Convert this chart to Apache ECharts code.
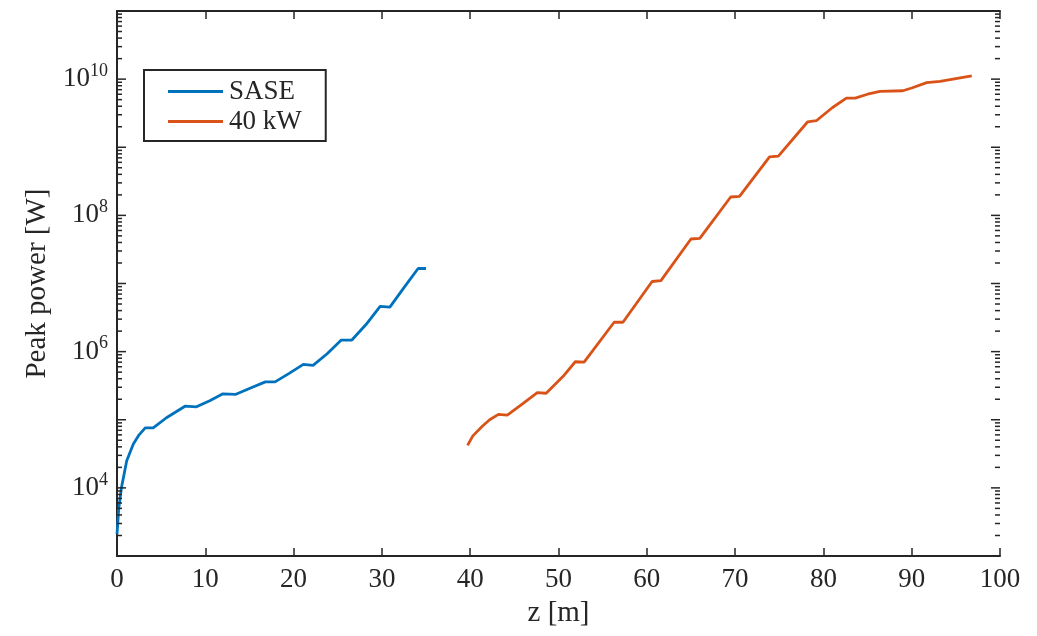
<!DOCTYPE html>
<html>
<head>
<meta charset="utf-8">
<script src="https://cdn.jsdelivr.net/npm/echarts@6/dist/echarts.min.js"></script>
<style>
  html, body { margin: 0; padding: 0; background: #fff; }
  #chart { width: 1037px; height: 636px; }
</style>
</head>
<body>
<div id="chart"></div>
<script>
// Peak power along the undulator: SASE start-up vs. a 40 kW seeded section
const saseZ = [0, 0.2, 0.5, 1.1, 1.85, 2.5, 3.2, 4.1, 5.6, 7.7, 9.0, 10.5, 12.0, 13.4, 15.2, 16.8, 17.9, 19.5, 21.1, 22.2, 23.8, 25.4, 26.6, 28.2, 29.8, 30.9, 32.5, 34.1, 35.0];
const saseP = [2.1e3, 5.0e3, 1.0e4, 2.5e4, 4.4e4, 6.0e4, 7.6e4, 7.6e4, 1.07e5, 1.58e5, 1.55e5, 1.9e5, 2.4e5, 2.35e5, 2.95e5, 3.6e5, 3.6e5, 4.8e5, 6.5e5, 6.3e5, 9.3e5, 1.48e6, 1.48e6, 2.5e6, 4.6e6, 4.5e6, 8.7e6, 1.66e7, 1.66e7];

const seedZ = [39.7, 40.3, 41.4, 42.2, 43.2, 44.2, 46.0, 47.6, 48.6, 50.5, 51.9, 52.9, 56.3, 57.3, 60.6, 61.6, 65.0, 66.0, 69.5, 70.5, 73.9, 74.9, 78.2, 79.2, 81.0, 82.6, 83.6, 85.0, 86.4, 89.0, 90.0, 91.7, 93.2, 95.0, 96.8];
const seedP = [4.2e4, 5.8e4, 8.1e4, 1.0e5, 1.2e5, 1.17e5, 1.74e5, 2.5e5, 2.45e5, 4.3e5, 7.1e5, 7.0e5, 2.7e6, 2.7e6, 1.07e7, 1.1e7, 4.5e7, 4.6e7, 1.86e8, 1.9e8, 7.2e8, 7.4e8, 2.35e9, 2.45e9, 3.8e9, 5.25e9, 5.25e9, 6.0e9, 6.6e9, 6.75e9, 7.4e9, 8.9e9, 9.3e9, 1.02e10, 1.12e10];

const seriesNames = ['SASE', '40 kW'];
const seriesColors = ['#0072BD', '#D95319'];
const xTicks = [0, 10, 20, 30, 40, 50, 60, 70, 80, 90, 100];
const yLabelExps = [4, 6, 8, 10];
const yMin = 1e3, yMax = 1e11;

// log-axis tick marks: one per decade plus 2..9 within each decade
const yTickVals = [];
for (let e = 3; e <= 10; e++) {
  for (let k = 1; k <= 9; k++) yTickVals.push(k * Math.pow(10, e));
}
yTickVals.push(yMax);

const zip = (xs, ys) => xs.map((x, i) => [x, ys[i]]);

const ink = '#262626';
const serif = '"Liberation Serif", "DejaVu Serif", serif';

const chart = echarts.init(document.getElementById('chart'), null, { renderer: 'canvas' });

const baseX = {
  type: 'value', min: 0, max: 100, interval: 10,
  axisLine: { show: true, lineStyle: { color: ink, width: 2 } },
  axisTick: { show: true, inside: true, length: 8, lineStyle: { color: ink, width: 1.5 } },
  splitLine: { show: false }
};
const baseY = {
  type: 'log', logBase: 10, min: yMin, max: yMax,
  axisLine: { show: true, lineStyle: { color: ink, width: 2 } },
  axisTick: { show: false },
  minorTick: { show: false },
  splitLine: { show: false }
};

chart.setOption({
  animation: false,
  backgroundColor: '#fff',
  textStyle: { fontFamily: serif, color: ink },
  grid: { left: 117, right: 37, top: 11, bottom: 80, containLabel: false },
  legend: {
    orient: 'vertical', left: 144, top: 70,
    data: seriesNames.map(n => ({ name: n, icon: 'rect' })),
    itemWidth: 55, itemHeight: 3, itemGap: 3,
    padding: [8, 24, 6, 24],
    borderColor: ink, borderWidth: 2, backgroundColor: '#fff',
    textStyle: { fontFamily: serif, fontSize: 27, color: ink, padding: [0, 0, 0, 1] }
  },
  xAxis: [
    Object.assign({}, baseX, {
      position: 'bottom',
      name: 'z [m]', nameLocation: 'middle', nameGap: 43,
      nameTextStyle: { fontFamily: serif, fontSize: 29, color: ink },
      axisLabel: {
        margin: 10, fontFamily: serif, fontSize: 27, color: ink,
        formatter: v => xTicks.includes(v) ? String(v) : ''
      }
    }),
    Object.assign({}, baseX, { position: 'top', axisLabel: { show: false } })
  ],
  yAxis: [
    Object.assign({}, baseY, {
      position: 'left',
      name: 'Peak power [W]', nameLocation: 'middle', nameGap: 60, nameRotate: 90,
      nameTextStyle: { fontFamily: serif, fontSize: 29, color: ink },
      axisLabel: {
        margin: 9, color: ink,
        formatter: v => {
          const e = Math.round(Math.log10(v));
          return yLabelExps.includes(e) ? '{b|10}{s|' + e + '}' : '';
        },
        rich: {
          b: { fontFamily: serif, fontSize: 27, color: ink },
          s: { fontFamily: serif, fontSize: 18, color: ink, padding: [0, 0, 16, 0] }
        }
      }
    }),
    Object.assign({}, baseY, { position: 'right', axisLabel: { show: false } })
  ],
  series: [
    {
      name: seriesNames[0], type: 'line', xAxisIndex: 0, yAxisIndex: 0,
      data: zip(saseZ, saseP), showSymbol: false, symbol: 'none',
      lineStyle: { color: seriesColors[0], width: 2.8 }, itemStyle: { color: seriesColors[0] }
    },
    {
      name: seriesNames[1], type: 'line', xAxisIndex: 0, yAxisIndex: 0,
      data: zip(seedZ, seedP), showSymbol: false, symbol: 'none',
      lineStyle: { color: seriesColors[1], width: 2.8 }, itemStyle: { color: seriesColors[1] }
    },
    {
      // inward tick marks on the left and right spines of the log axis
      name: 'yTicks', type: 'custom', xAxisIndex: 0, yAxisIndex: 0,
      silent: true, z: 5, clip: false,
      data: yTickVals.map(v => [0, v]),
      renderItem: (params, api) => {
        const v = api.value(1);
        const left = api.coord([0, v]);
        const right = api.coord([100, v]);
        const e = Math.log10(v);
        const len = Math.abs(e - Math.round(e)) < 1e-9 ? 9 : 5;
        const style = { stroke: ink, lineWidth: 1.5 };
        return {
          type: 'group',
          children: [
            { type: 'line', shape: { x1: left[0], y1: left[1], x2: left[0] + len, y2: left[1] }, style },
            { type: 'line', shape: { x1: right[0], y1: right[1], x2: right[0] - len, y2: right[1] }, style }
          ]
        };
      }
    }
  ]
});
</script>
</body>
</html>
